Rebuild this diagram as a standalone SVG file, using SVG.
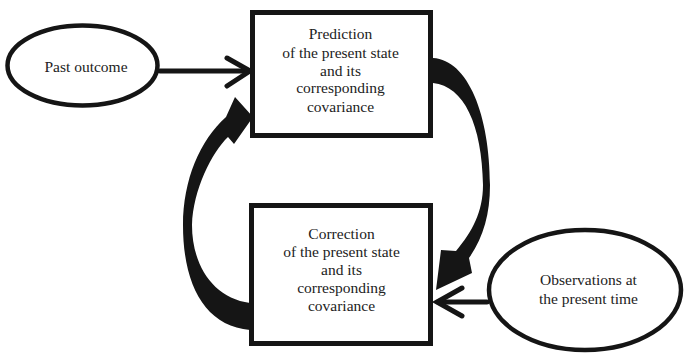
<svg xmlns="http://www.w3.org/2000/svg" width="685" height="354" viewBox="0 0 685 354">
<style>
.box{fill:#fff;stroke:#151515;stroke-width:5}
.ell{fill:#fff;stroke:#151515;stroke-width:4.5}
.t{font-family:"Liberation Serif","Times New Roman",serif;font-size:15.5px;fill:#222;text-anchor:middle}
.ln{fill:none;stroke:#151515;stroke-width:5;stroke-linecap:round;stroke-linejoin:miter}
.fa{fill:#151515;stroke:none}
</style>
<rect width="685" height="354" fill="#fff"/>
<g id="connectors">
<line class="ln" x1="160" y1="71" x2="249" y2="71"/>
<polyline class="ln" points="227,58 250,71 227,86"/>
<line class="ln" x1="487" y1="302" x2="438" y2="302"/>
<polyline class="ln" points="462,288 437,302 462,316"/>
<path class="fa" d="M433,58 C468,60 490,115 490,185 C490,215 483,238 469,258 L472,273 L436,290 L441,250 L456,251 C472,232 483,212 483,185 C482,125 464,86 433,83 Z"/>
<path class="fa" d="M250,330 C205,326 183,285 183,225 C183,180 200,140 226,117 L235,97 L253,117 L234,144 L228,137 C212,152 193,190 192,225 C192,265 213,298 250,303 Z"/>
</g>
<g id="past">
<ellipse class="ell" cx="82.5" cy="65.5" rx="75" ry="40"/>
<text class="t" x="86" y="72">Past outcome</text>
</g>
<g id="prediction">
<rect class="box" x="252.5" y="12.5" width="178" height="123"/>
<text class="t" x="340.5" y="39">Prediction</text>
<text class="t" x="340.5" y="58">of the present state</text>
<text class="t" x="340.5" y="75.5">and its</text>
<text class="t" x="340.5" y="93">corresponding</text>
<text class="t" x="340.5" y="111.5">covariance</text>
</g>
<g id="correction">
<rect class="box" x="251.5" y="205.5" width="179" height="138"/>
<text class="t" x="341.5" y="238.5">Correction</text>
<text class="t" x="341.5" y="256.5">of the present state</text>
<text class="t" x="341.5" y="274.5">and its</text>
<text class="t" x="341.5" y="292.5">corresponding</text>
<text class="t" x="341.5" y="311">covariance</text>
</g>
<g id="observations">
<ellipse class="ell" cx="585" cy="290" rx="96" ry="60"/>
<text class="t" x="588.5" y="285">Observations at</text>
<text class="t" x="588.5" y="304">the present time</text>
</g>
</svg>
